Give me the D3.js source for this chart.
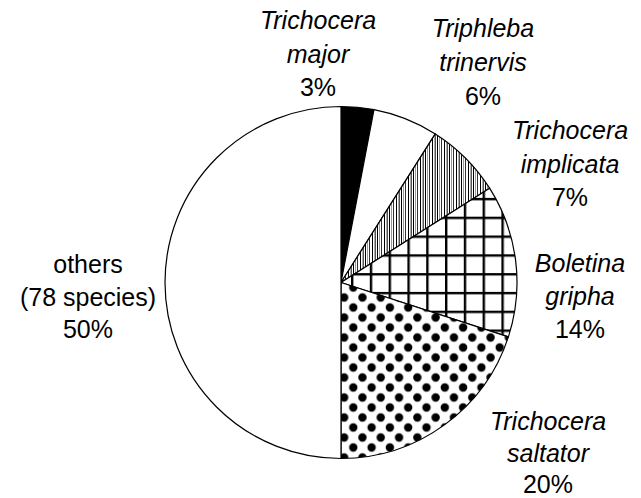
<!DOCTYPE html>
<html><head><meta charset="utf-8">
<script src="https://cdn.jsdelivr.net/npm/d3@7"></script>
<style>
html,body{margin:0;padding:0;background:#fff;}
svg{display:block;}
text{font-family:"Liberation Sans",Arial,sans-serif;font-size:25px;fill:#000;}
</style></head>
<body>
<svg id="chart" width="641" height="498"></svg>
<script>
// ---- data ----
const categories = ["Trichocera major","Triphleba trinervis","Trichocera implicata","Boletina gripha","Trichocera saltator","others"];
const values = [3, 6, 7, 14, 20, 50];
const labelLine1 = ["Trichocera","Triphleba","Trichocera","Boletina","Trichocera","others"];
const labelLine2 = ["major","trinervis","implicata","gripha","saltator","(78 species)"];
const italicName = [true, true, true, true, true, false];
const fills = ["black","white","url(#vlines)","url(#grid)","url(#dots)","white"];

// ---- layout ----
const W = 641, H = 498;
const cx = 341, cy = 282.5, R = 176;
const labelPos = [ // [center x, first baseline, line gap]
  [318, 29, 33.5], [483, 37, 34], [570, 139, 33.5], [580, 272, 33], [548, 430, 31.5], [88, 273, 32.5]
];

const svg = d3.select("#chart");
const defs = svg.append("defs");

// vertical lines pattern
const pv = defs.append("pattern").attr("id","vlines").attr("patternUnits","userSpaceOnUse")
  .attr("width",12).attr("height",10).attr("x",0).attr("y",0);
pv.append("rect").attr("width",12).attr("height",10).attr("fill","white");
[[0.5,"#000"],[2.5,"#999"],[4.5,"#333"],[7.5,"#000"],[9.5,"#aaa"],[10.5,"#555"]].forEach(([x,c])=>{
  pv.append("line").attr("x1",x).attr("x2",x).attr("y1",0).attr("y2",10).attr("stroke",c).attr("stroke-width",1);
});

// grid pattern
const gs = 18.8;
const pg = defs.append("pattern").attr("id","grid").attr("patternUnits","userSpaceOnUse")
  .attr("width",gs).attr("height",gs).attr("x",406 - 1.2).attr("y",255 - 1.2);
pg.append("rect").attr("width",gs).attr("height",gs).attr("fill","white");
pg.append("rect").attr("x",0).attr("y",0).attr("width",2.4).attr("height",gs).attr("fill","black");
pg.append("rect").attr("x",0).attr("y",0).attr("width",gs).attr("height",2.4).attr("fill","black");

// dots pattern
const dw = 18.3, dh = 20;
const pd = defs.append("pattern").attr("id","dots").attr("patternUnits","userSpaceOnUse")
  .attr("width",dw).attr("height",dh).attr("x",360).attr("y",365);
pd.append("rect").attr("width",dw).attr("height",dh).attr("fill","white");
[[0,0],[dw,0],[0,dh],[dw,dh],[dw/2,dh/2]].forEach(([x,y])=>{
  pd.append("circle").attr("cx",x).attr("cy",y).attr("r",4.2).attr("fill","black");
});

const pie = d3.pie().sort(null).value(d=>d)(values);
const arc = d3.arc().innerRadius(0).outerRadius(R);

const g = svg.append("g").attr("transform",`translate(${cx},${cy})`);
g.selectAll("path").data(pie).join("path")
  .attr("d",arc)
  .attr("fill",(d,i)=>fills[i])
  .attr("stroke","black")
  .attr("stroke-width",1.2)
  .attr("stroke-linejoin","round");

// labels
const lg = svg.append("g");
pie.forEach((d,i)=>{
  const [x,y,gap] = labelPos[i];
  const t = lg.append("text").attr("text-anchor","middle");
  t.append("tspan").attr("x",x).attr("y",y).style("font-style",italicName[i]?"italic":"normal").text(labelLine1[i]);
  t.append("tspan").attr("x",x).attr("y",y+gap).style("font-style",italicName[i]?"italic":"normal").text(labelLine2[i]);
  t.append("tspan").attr("x",x).attr("y",y+2*gap).text(values[i]+"%");
});
</script>
</body></html>
